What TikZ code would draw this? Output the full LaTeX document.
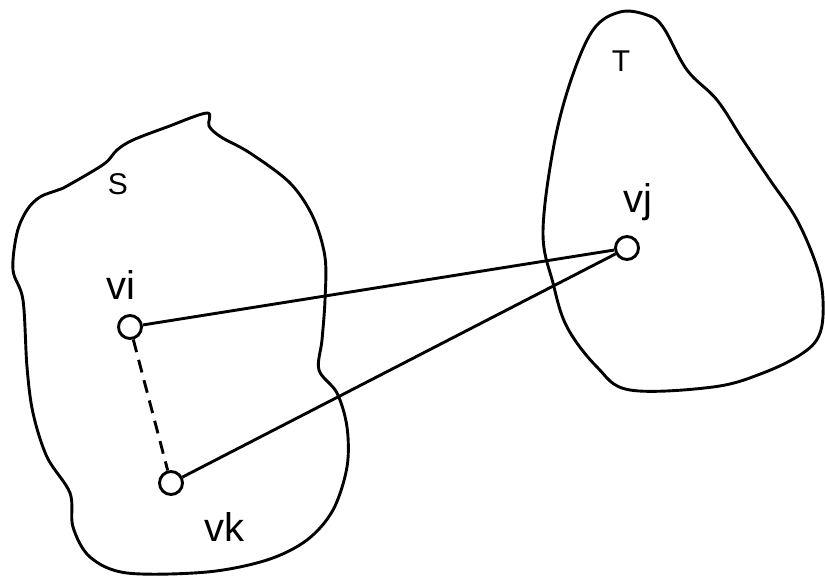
\documentclass[tikz,border=0pt]{standalone}
\usepackage{fontspec}
\setmainfont{Liberation Sans}
\usetikzlibrary{positioning}

\begin{document}
\begin{tikzpicture}[x=1pt,y=-1pt,line width=2.9pt,
    vertex/.style={circle,draw=black,fill=white,line width=2.9pt,minimum size=23pt,inner sep=0pt},
    vname/.style={font=\fontsize{40}{44}\selectfont,inner sep=0pt},
    setname/.style={font=\fontsize{30}{34}\selectfont,inner sep=0pt},
    region/.style={draw=black,line join=round}]
    \useasboundingbox (0,0) rectangle (825,583);
    % the two vertex sets, drawn as rough closed curves
    \draw[region] plot[smooth cycle,tension=0.55] coordinates {
        (207,113) (209,126) (221,137) (250,153) (290,183) (313,217) (325,257)
        (325,300) (322,340) (319,370) (337,393) (347,427) (347,467) (333,510)
        (307,540) (267,560) (207,572) (127,573) (90,557) (73,527) (70,493)
        (47,457) (33,413) (27,367) (23,300) (13,270) (17,233) (27,210)
        (40,197) (58,190) (67,186) (104,164) (117,150) (133,140) (167,127)};
    \draw[region] plot[smooth cycle,tension=0.6] coordinates {
        (620,12) (647,15) (663,27) (687,70) (717,100) (743,140) (770,180)
        (797,220) (817,267) (823,300) (820,333) (803,353) (763,373) (713,387)
        (630,390) (597,367) (567,327) (553,283) (543,233) (553,150) (570,83)
        (593,30)};
    \node[setname] (S) at (118,184) {S};
    \node[setname] (T) at (621,61) {T};

    % vertices
    \node[vertex] (vi) at (130,327) {};
    \node[vertex] (vk) at (171,483) {};
    \node[vertex] (vj) at (627,248) {};
    \node[vname] (vilab) at (121,285) {vi};
    \node[vname] (vjlab) at (638,202) {vj};
    \node[vname] (vklab) at (224,527) {vk};

    % edges
    \draw (vi) -- (vj);
    \draw (vk) -- (vj);
    \draw[dash pattern=on 13pt off 8pt] (vi) -- (vk);
\end{tikzpicture}
\end{document}
